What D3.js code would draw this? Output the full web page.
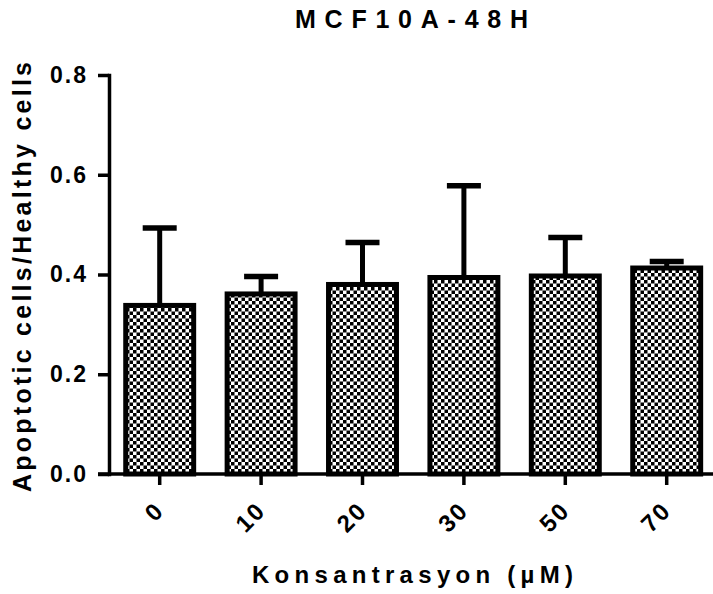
<!DOCTYPE html>
<html>
<head>
<meta charset="utf-8">
<script src="https://cdn.jsdelivr.net/npm/d3@7"></script>
<style>
  html, body { margin: 0; padding: 0; background: #fff; }
  svg { display: block; }
</style>
</head>
<body>
<div id="chart"></div>
<script>
// data
const categories = ["0", "10", "20", "30", "50", "70"];
const means = [0.338, 0.361, 0.380, 0.394, 0.397, 0.413];
const errUp = [0.155, 0.035, 0.084, 0.184, 0.077, 0.013];
const yTicks = [0, 0.2, 0.4, 0.6, 0.8];

const width = 713, height = 594;
const font = "'Liberation Sans', Arial, sans-serif";

const svg = d3.select("#chart").append("svg")
    .attr("width", width)
    .attr("height", height);

// checkerboard fill for the bars
const pat = svg.append("defs").append("pattern")
    .attr("id", "checker")
    .attr("patternUnits", "userSpaceOnUse")
    .attr("width", 7)
    .attr("height", 7);
pat.append("rect").attr("width", 7).attr("height", 7).attr("fill", "#fff");
pat.append("rect").attr("width", 3.5).attr("height", 3.5).attr("fill", "#000");
pat.append("rect").attr("x", 3.5).attr("y", 3.5).attr("width", 3.5).attr("height", 3.5).attr("fill", "#000");

const x = d3.scaleBand()
    .domain(categories)
    .range([109, 717.4])
    .paddingInner(0.33)
    .paddingOuter(0.165);

const y = d3.scaleLinear()
    .domain([0, 0.8])
    .range([474, 75]);

const rows = categories.map((c, i) => ({ c: c, m: means[i], e: errUp[i] }));

// error bars (upper only)
const eb = svg.append("g").attr("stroke", "#000");
eb.selectAll(".stem")
    .data(rows)
    .enter().append("line")
    .attr("x1", d => x(d.c) + x.bandwidth() / 2)
    .attr("x2", d => x(d.c) + x.bandwidth() / 2)
    .attr("y1", d => y(d.m))
    .attr("y2", d => y(d.m + d.e))
    .attr("stroke-width", 5);
eb.selectAll(".cap")
    .data(rows)
    .enter().append("line")
    .attr("x1", d => x(d.c) + x.bandwidth() / 2 - 17)
    .attr("x2", d => x(d.c) + x.bandwidth() / 2 + 17)
    .attr("y1", d => y(d.m + d.e))
    .attr("y2", d => y(d.m + d.e))
    .attr("stroke-width", 5.5);

// bars
svg.append("g").selectAll("rect")
    .data(rows)
    .enter().append("rect")
    .attr("x", d => x(d.c))
    .attr("y", d => y(d.m))
    .attr("width", x.bandwidth())
    .attr("height", d => y(0) - y(d.m))
    .attr("fill", "url(#checker)")
    .attr("stroke", "#000")
    .attr("stroke-width", 5);

// y axis
const yAxis = svg.append("g")
    .attr("transform", "translate(109,0)")
    .call(d3.axisLeft(y).tickValues(yTicks).tickFormat(d3.format(".1f")).tickSize(11).tickSizeOuter(0).tickPadding(10));
yAxis.select(".domain").attr("stroke-width", 3.5).attr("stroke-linecap", "square");
yAxis.selectAll(".tick line").attr("stroke-width", 3.5);
yAxis.selectAll(".tick text")
    .style("font-family", font)
    .style("font-weight", "bold")
    .style("font-size", "23px")
    .style("letter-spacing", "2px")
    .attr("fill", "#000");

// x axis
const xAxis = svg.append("g")
    .attr("transform", "translate(0," + y(0) + ")")
    .call(d3.axisBottom(x).tickSize(11).tickSizeOuter(0));
xAxis.select(".domain").remove();
xAxis.selectAll(".tick line").attr("stroke-width", 3.5);
xAxis.selectAll(".tick text")
    .attr("x", 0)
    .attr("y", 0)
    .attr("dy", 0)
    .attr("transform", "translate(6,38) rotate(-45)")
    .attr("text-anchor", "end")
    .style("font-family", font)
    .style("font-weight", "bold")
    .style("font-size", "24px")
    .style("letter-spacing", "2px")
    .attr("fill", "#000");
svg.append("line")
    .attr("x1", 98)
    .attr("x2", width)
    .attr("y1", y(0))
    .attr("y2", y(0))
    .attr("stroke", "#000")
    .attr("stroke-width", 3.5);

// titles
svg.append("text")
    .attr("x", 411.5)
    .attr("y", 28)
    .attr("text-anchor", "middle")
    .attr("textLength", 233)
    .attr("lengthAdjust", "spacing")
    .style("font-family", font)
    .style("font-weight", "bold")
    .style("font-size", "25px")
    .text("MCF10A-48H");

svg.append("text")
    .attr("transform", "translate(31,277) rotate(-90)")
    .attr("text-anchor", "middle")
    .attr("textLength", 430)
    .attr("lengthAdjust", "spacing")
    .style("font-family", font)
    .style("font-weight", "bold")
    .style("font-size", "25px")
    .text("Apoptotic cells/Healthy cells");

svg.append("text")
    .attr("x", 412.5)
    .attr("y", 583)
    .attr("text-anchor", "middle")
    .attr("textLength", 321)
    .attr("lengthAdjust", "spacing")
    .style("font-family", font)
    .style("font-weight", "bold")
    .style("font-size", "24px")
    .text("Konsantrasyon (µM)");
</script>
</body>
</html>
